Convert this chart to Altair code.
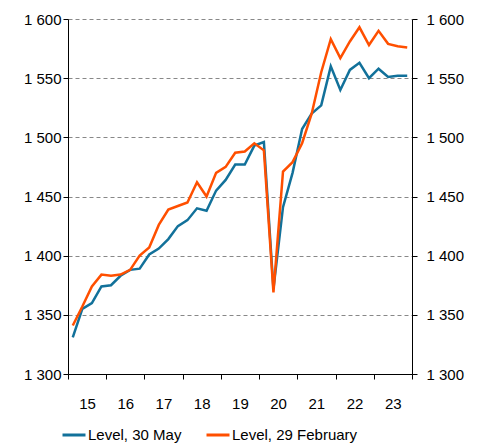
import altair as alt
import pandas as pd

# Quarterly periods 2015Q1 .. 2023Q4
years = list(range(2015, 2024))
quarters = [1, 2, 3, 4]

series_names = ["Level, 30 May", "Level, 29 February"]
colors = ["#12719a", "#ff4f00"]

level_30_may = [1331, 1355, 1360, 1374, 1375, 1383, 1388, 1389, 1401, 1406,
                1414, 1425, 1430, 1440, 1438, 1455, 1464, 1477, 1477, 1493,
                1496, 1372, 1441, 1470, 1507, 1520, 1527, 1560, 1540, 1557,
                1563, 1550, 1558, 1551, 1552, 1552]
level_29_feb = [1341, 1357, 1374, 1384, 1383, 1384, 1388, 1400, 1407, 1426,
                1439, 1442, 1445, 1462, 1450, 1470, 1475, 1487, 1488, 1495,
                1489, 1369, 1471, 1479, 1495, 1520, 1555, 1583, 1567, 1581,
                1593, 1578, 1590, 1579, 1577, 1576]

y_ticks = [1300, 1350, 1400, 1450, 1500, 1550, 1600]
x_ticks = list(range(2015, 2025))

periods = [(y, q) for y in years for q in quarters]
rows = []
for name, vals in zip(series_names, [level_30_may, level_29_feb]):
    for (y, q), v in zip(periods, vals):
        rows.append({"t": y + (q - 0.5) / 4, "v": v, "series": name})
df = pd.DataFrame(rows)

FONT = "Liberation Sans"
FS = 15
label_expr_y = "replace(format(datum.value, ','), ',', ' ')"

x_enc = alt.X(
    "t:Q",
    scale=alt.Scale(domain=[2015, 2024], nice=False, zero=False),
    axis=alt.Axis(
        values=x_ticks,
        labelExpr="datum.value < 2024 ? format(datum.value % 100, '02d') : ''",
        labelOffset=19,
        labelFlush=False,
        labelOverlap=False,
        labelPadding=17,
        grid=False,
        title=None,
        tickSize=5,
    ),
)

y_scale = alt.Scale(domain=[1300, 1600], nice=False, zero=False)

color_enc = alt.Color(
    "series:N",
    scale=alt.Scale(domain=series_names, range=colors),
    legend=alt.Legend(
        title=None,
        orient="none",
        legendX=-7,
        legendY=403,
        direction="horizontal",
        symbolType="stroke",
        symbolSize=529,
        symbolStrokeWidth=3,
        labelFont=FONT,
        labelFontSize=FS,
        labelColor="#000000",
        labelOffset=1,
        columnPadding=18,
    ),
)

blue = alt.Chart(df).transform_filter(
    alt.datum.series == series_names[0]
).mark_line(strokeWidth=2.5).encode(
    x=x_enc,
    y=alt.Y(
        "v:Q",
        scale=y_scale,
        axis=alt.Axis(
            orient="left",
            values=y_ticks,
            labelExpr=label_expr_y,
            title=None,
            grid=True,
            gridDash=[4, 3],
            gridColor="#888888",
            gridWidth=1,
            labelPadding=2,
            tickSize=5,
        ),
    ),
    color=color_enc,
)

orange = alt.Chart(df).transform_filter(
    alt.datum.series == series_names[1]
).mark_line(strokeWidth=2.5).encode(
    x=x_enc,
    y=alt.Y(
        "v:Q",
        scale=y_scale,
        axis=alt.Axis(
            orient="right",
            values=y_ticks,
            labelExpr=label_expr_y,
            title=None,
            grid=False,
            labelPadding=9,
            tickSize=5,
        ),
    ),
    color=color_enc,
)

chart = alt.layer(blue, orange).resolve_axis(y="independent").properties(
    width=344,
    height=355,
    padding={"left": 15, "top": 4, "right": 5, "bottom": 5},
).configure_axis(
    labelFont=FONT,
    labelFontSize=FS,
    labelColor="#000000",
    domainColor="#000000",
    domainWidth=1,
    tickColor="#000000",
    tickWidth=1,
).configure_view(strokeWidth=0)

chart.save("out.html", embed_options={"renderer": "svg", "actions": False})
